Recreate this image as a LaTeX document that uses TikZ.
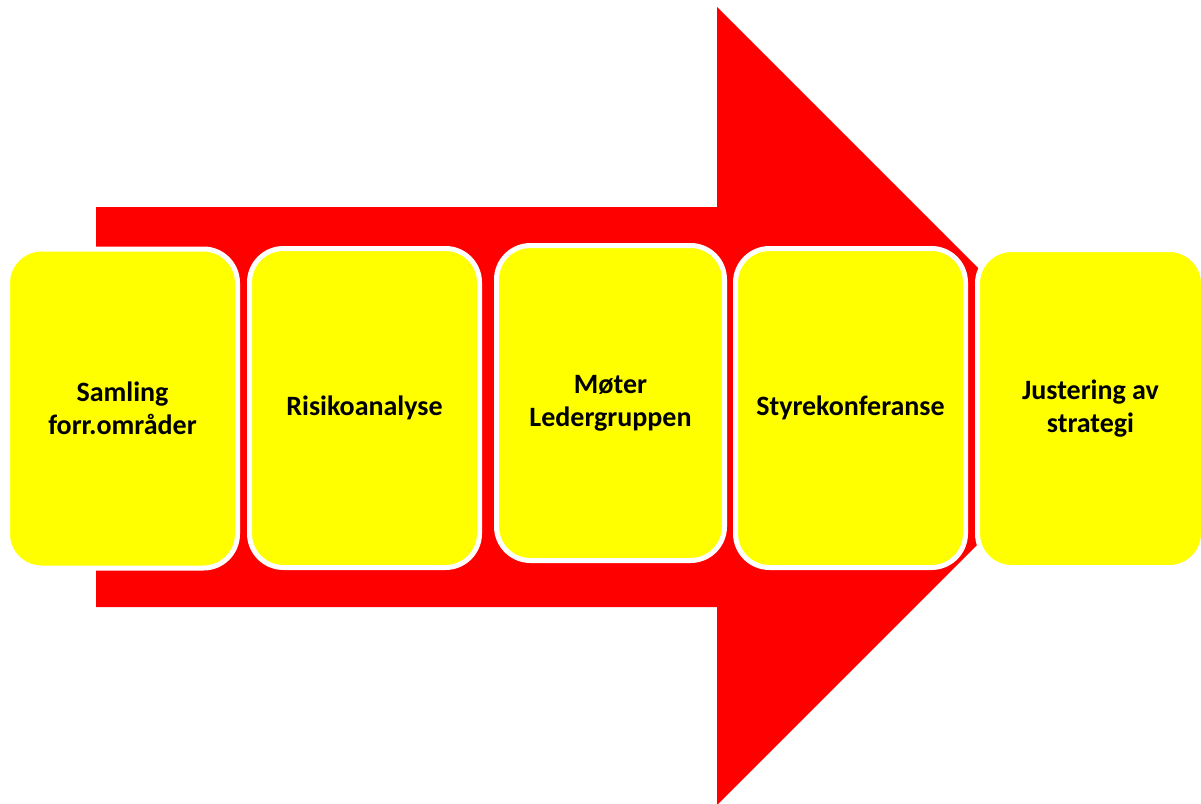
\documentclass[tikz,border=0pt]{standalone}
\usepackage{fontspec}
\setmainfont{Carlito}
\usetikzlibrary{positioning}
\definecolor{arrowred}{HTML}{FF0000}
\definecolor{stageyellow}{HTML}{FFFF00}

\begin{document}
\begin{tikzpicture}[x=1pt, y=-1pt,
		stage/.style={draw=white, line width=5pt, fill=stageyellow, rounded corners=34pt,
			inner sep=0pt, minimum width=230pt, minimum height=319pt, align=center,
			font=\fontsize{28}{33}\selectfont\bfseries}]
			\useasboundingbox (0,0) rectangle (1201,803);
			\clip (0,0) rectangle (1201,803);
			\fill [arrowred] (96,207) -- (717,207) -- (717,7) -- (1116,406) -- (717,805) -- (717,607) -- (96,607) -- cycle;

			\node [stage] (samling) at (122.5,408.5) {Samling\\forr.områder};
			\node [stage] (risiko) at (364.5,408) {Risikoanalyse};
			\node [stage, minimum width=228pt, minimum height=315pt] (moter) at (610.5,403) {Møter\\Ledergruppen};
			\node [stage] (styre) at (850.5,408) {Styrekonferanse};
			\node [stage, minimum width=226pt, minimum height=318pt] (justering) at (1090.5,408.5) {Justering av\\strategi};
		\end{tikzpicture}
\end{document}
